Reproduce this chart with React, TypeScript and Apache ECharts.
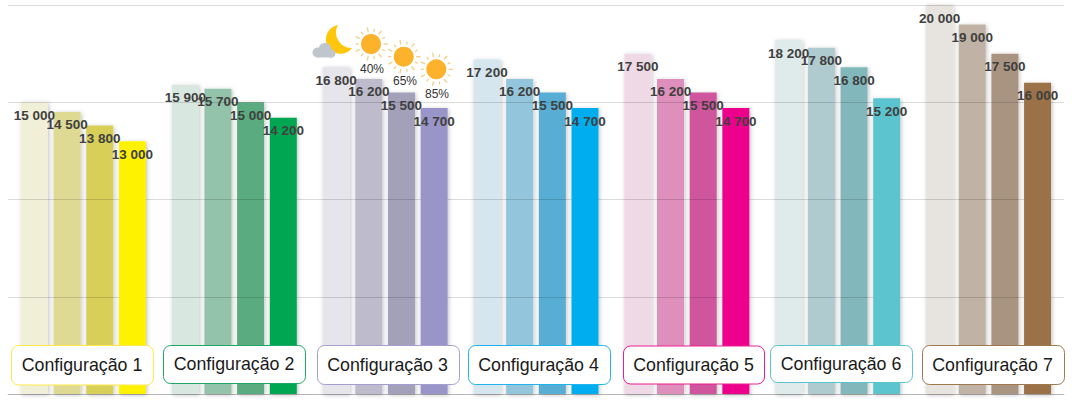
import React, { useEffect, useRef } from "react";
import * as echarts from "echarts";

const categories = ["Configuração 1", "Configuração 2", "Configuração 3", "Configuração 4", "Configuração 5", "Configuração 6", "Configuração 7"];
const seriesA = [15000, 15900, 16800, 17200, 17500, 18200, 20000];
const seriesB = [14500, 15700, 16200, 16200, 16200, 17800, 19000];
const seriesC = [13800, 15000, 15500, 15500, 15500, 16800, 17500];
const seriesD = [13000, 14200, 14700, 14700, 14700, 15200, 16000];

const coloursA = ["#F2EFD8", "#D8E8E0", "#E6E5EB", "#D6E6EE", "#F0D9E6", "#DFEBEB", "#E7E4DF"];
const coloursB = ["#DEDA93", "#93C3AA", "#BDBBCC", "#93C6DC", "#DE8FBB", "#AFCBD0", "#C0B3A5"];
const coloursC = ["#D7CF58", "#5AAB80", "#A3A0BA", "#58ADD4", "#CF559C", "#82B8BC", "#A89480"];
const coloursD = ["#FFF200", "#00A651", "#9A95C9", "#00AEEF", "#EC008C", "#5BC4CF", "#9B7147"];
const borderColours = ["#FFE94A", "#1FA765", "#A49FD0", "#1FB4EC", "#EC1E93", "#5BC4CF", "#A0784E"];

const sunLabels = ["40%", "65%", "85%"];

const FONT = '"Liberation Sans", Arial, sans-serif';

const legendBoxes = [
  { x: 11.5, y: 345.5, w: 142, h: 39.5, tx: 82, ty: 365 },
  { x: 163.5, y: 345.5, w: 142, h: 38, tx: 234, ty: 364 },
  { x: 317.5, y: 345.5, w: 142, h: 39, tx: 387.5, ty: 365 },
  { x: 468.5, y: 345.5, w: 142, h: 39, tx: 538.5, ty: 365 },
  { x: 623.5, y: 346, w: 141, h: 38, tx: 693.5, ty: 365 },
  { x: 770.5, y: 345.5, w: 142, h: 37, tx: 841, ty: 363.5 },
  { x: 922.5, y: 345.5, w: 142, h: 39, tx: 992.5, ty: 365 },
];

const sunSpots = [
  { cx: 371, cy: 44, lx: 372, ly: 68.5 },
  { cx: 403.7, cy: 56.7, lx: 405, ly: 81 },
  { cx: 436.3, cy: 69.3, lx: 437, ly: 93.5 },
];

echarts.graphic.registerShape(
  "moonCrescent",
  echarts.graphic.extendPath(
    "M338 25 A14.5 14.5 0 1 0 352 48 A15.5 15.5 0 0 1 338 25 Z",
    {}
  )
);

function makeSeries(name: string, values: number[], colours: string[], z: number) {
  return {
    name,
    type: "bar",
    z,
    barWidth: 27,
    barGap: "21%",
    data: values.map((value, i) => ({
      value,
      itemStyle: {
        color: colours[i],
        shadowBlur: 4,
        shadowColor: "rgba(0,0,0,0.25)",
        shadowOffsetX: 1,
        shadowOffsetY: 1,
      },
    })),
    label: {
      show: true,
      position: "insideTop",
      distance: 6,
      color: "#404040",
      fontFamily: FONT,
      fontSize: 13.5,
      fontWeight: "bold",
      formatter: (p: any) => String(p.value).replace(/(\d)(?=(\d{3})$)/, "$1 "),
    },
  };
}

function sunElements() {
  const out: any[] = [];
  sunSpots.forEach((s, idx) => {
    const count = 14;
    for (let i = 0; i < count; i++) {
      const a = (i / count) * Math.PI * 2;
      const r0 = 12.5;
      const r1 = i % 2 === 0 ? 17 : 15.5;
      out.push({
        type: "line",
        z: 20,
        silent: true,
        shape: {
          x1: s.cx + Math.cos(a) * r0,
          y1: s.cy + Math.sin(a) * r0,
          x2: s.cx + Math.cos(a) * r1,
          y2: s.cy + Math.sin(a) * r1,
        },
        style: { stroke: "#EFD08A", lineWidth: 1.3 },
      });
    }
    out.push({ type: "circle", z: 21, silent: true, shape: { cx: s.cx, cy: s.cy, r: 10 }, style: { fill: "#FDB22B" } });
    out.push({
      type: "text",
      z: 21,
      silent: true,
      x: s.lx,
      y: s.ly,
      style: { text: sunLabels[idx], font: `12px ${FONT}`, fill: "#333333", align: "center", verticalAlign: "middle" },
    });
  });
  return out;
}

function moonElements() {
  const cloud = "#BFC6CE";
  return [
    { type: "moonCrescent", z: 20, silent: true, x: 0, y: 0, style: { fill: "#FFC60B" } },
    { type: "circle", z: 21, silent: true, shape: { cx: 317.5, cy: 52.5, r: 5 }, style: { fill: cloud } },
    { type: "circle", z: 21, silent: true, shape: { cx: 325, cy: 49.5, r: 6.5 }, style: { fill: cloud } },
    { type: "circle", z: 21, silent: true, shape: { cx: 331.5, cy: 53.5, r: 4 }, style: { fill: cloud } },
    { type: "rect", z: 21, silent: true, shape: { x: 317, y: 52, width: 15, height: 5.5 }, style: { fill: cloud } },
  ];
}

function legendElements() {
  const out: any[] = [];
  categories.forEach((name, i) => {
    const b = legendBoxes[i];
    out.push({
      type: "rect",
      z: 30,
      silent: true,
      shape: { x: b.x, y: b.y, width: b.w, height: b.h, r: 7 },
      style: { fill: "#FFFFFF", stroke: borderColours[i], lineWidth: 1 },
    });
    out.push({
      type: "text",
      z: 31,
      silent: true,
      x: b.tx,
      y: b.ty,
      style: { text: name, font: `17.8px ${FONT}`, fill: "#1A1A1A", align: "center", verticalAlign: "middle" },
    });
  });
  return out;
}

export default function App() {
  const ref = useRef<HTMLDivElement>(null);
  useEffect(() => {
    const chart = echarts.init(ref.current!, null, { renderer: "svg" });
    chart.setOption({
      animation: false,
      backgroundColor: "#FFFFFF",
      grid: { left: 8, right: 8, top: 5, bottom: 9, containLabel: false },
      xAxis: {
        type: "category",
        data: categories,
        axisTick: { show: false },
        axisLabel: { show: false },
        axisLine: { show: true, lineStyle: { color: "#D4D4D4", width: 1 } },
      },
      yAxis: {
        type: "value",
        z: 3,
        min: 0,
        max: 20000,
        interval: 5000,
        axisLabel: { show: false },
        axisLine: { show: false },
        axisTick: { show: false },
        splitLine: { lineStyle: { color: "rgba(0,0,0,0.14)", width: 1 } },
      },
      series: [
        makeSeries("A", seriesA, coloursA, 2),
        makeSeries("B", seriesB, coloursB, 2),
        makeSeries("C", seriesC, coloursC, 2),
        makeSeries("D", seriesD, coloursD, 4),
      ],
      graphic: { elements: [...moonElements(), ...sunElements(), ...legendElements()] },
    });
    return () => chart.dispose();
  }, []);
  return <div ref={ref} style={{ position: "fixed", left: 0, top: 0, width: 1072, height: 403 }} />;
}
